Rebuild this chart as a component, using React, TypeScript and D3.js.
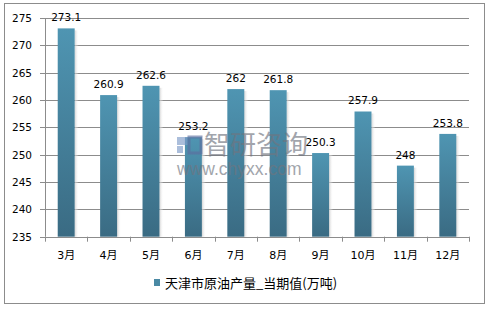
import React from "react";
import * as d3 from "d3";

const categories = ["3月", "4月", "5月", "6月", "7月", "8月", "9月", "10月", "11月", "12月"];
const values = [273.1, 260.9, 262.6, 253.2, 262, 261.8, 250.3, 257.9, 248, 253.8];
const valueLabels = ["273.1", "260.9", "262.6", "253.2", "262", "261.8", "250.3", "257.9", "248", "253.8"];
const yTicks = [235, 240, 245, 250, 255, 260, 265, 270, 275];
const legendLabel = "天津市原油产量_当期值(万吨)";

const W = 489;
const H = 311;
const left = 45;
const right = 469;
const top = 18;
const bottom = 236.7;

export default function App() {
  const x = d3.scaleBand<string>().domain(categories).range([left, right]).paddingInner(0).paddingOuter(0);
  const y = d3.scaleLinear().domain([235, 275]).range([bottom, top]);
  const bw = x.bandwidth() * 0.4;
  const font = "'DejaVu Sans', 'Noto Sans CJK SC', sans-serif";
  const cjk = "'Noto Sans CJK SC', sans-serif";
  return (
    <svg width={W} height={H} style={{ position: "absolute", left: 0, top: 0, background: "#fff" }}>
      <defs>
        <linearGradient id="barG" x1="0" y1="0" x2="0" y2="1">
          <stop offset="0" stopColor="#4f95b2" />
          <stop offset="1" stopColor="#3a6b83" />
        </linearGradient>
        <linearGradient id="shadowG" x1="0" y1="0" x2="1" y2="0">
          <stop offset="0" stopColor="#c8c8c8" stopOpacity="0.8" />
          <stop offset="1" stopColor="#ffffff" stopOpacity="0" />
        </linearGradient>
      </defs>
      <rect x={4.5} y={3.5} width={480} height={300} fill="#fff" stroke="#8c8c8c" strokeWidth={1} />
      {yTicks.map((t) => (
        <g key={t}>
          <line x1={left - 5} x2={right} y1={Math.round(y(t)) + 0.5} y2={Math.round(y(t)) + 0.5} stroke="#8c8c8c" strokeWidth={1} />
          <text x={32} y={y(t) + 4} fontSize={10.5} fontFamily={font} textAnchor="end" fill="#000">{t}</text>
        </g>
      ))}
      <line x1={left + 0.5} x2={left + 0.5} y1={top} y2={bottom} stroke="#8c8c8c" />
      {categories.map((c) => {
        const x0 = x(c)!;
        return (
          <line key={"tk" + c} x1={Math.round(x0) + 0.5} x2={Math.round(x0) + 0.5} y1={bottom} y2={bottom + 5} stroke="#8c8c8c" />
        );
      })}
      <line x1={right + 0.5} x2={right + 0.5} y1={bottom} y2={bottom + 5} stroke="#8c8c8c" />
      {categories.map((c, i) => {
        const cx = x(c)! + x.bandwidth() / 2;
        const yt = y(values[i]);
        return (
          <g key={c}>
            <rect x={cx + bw / 2} y={yt + 2} width={4} height={bottom - yt - 2} fill="url(#shadowG)" />
            <rect x={cx - bw / 2} y={yt} width={bw} height={bottom - yt} fill="url(#barG)" />
            <text x={cx} y={yt - 7} fontSize={10.5} fontFamily={font} textAnchor="middle" fill="#000">{valueLabels[i]}</text>
            <text x={cx} y={bottom + 22} fontSize={11} fontFamily={font} textAnchor="middle" fill="#000">{c}</text>
          </g>
        );
      })}
      <line x1={left} x2={right} y1={Math.round(bottom) + 0.5} y2={Math.round(bottom) + 0.5} stroke="#8c8c8c" />
      {/* watermark */}
      <g opacity={0.65}>
        <rect x={177} y={137} width={11} height={8} fill="#7f9cc8" />
        <rect x={177} y={146} width={6} height={7} fill="#7f9cc8" />
        <rect x={189} y={137} width={12} height={16} fill="none" stroke="#5c6fa0" strokeWidth={3} />
        <text x={204} y={154} fontSize={26} fontFamily={cjk} fill="#707580">智研咨询</text>
        <text x={177} y={175} fontSize={17.5} fontFamily="'Liberation Sans', Arial, sans-serif" fill="#707580">www.chyxx.com</text>
      </g>
      {/* legend */}
      <rect x={154} y={279} width={6} height={7} fill="#4a89a4" />
      <text x={165} y={287.5} fontSize={13} fontFamily={cjk} fill="#000">{legendLabel}</text>
    </svg>
  );
}
